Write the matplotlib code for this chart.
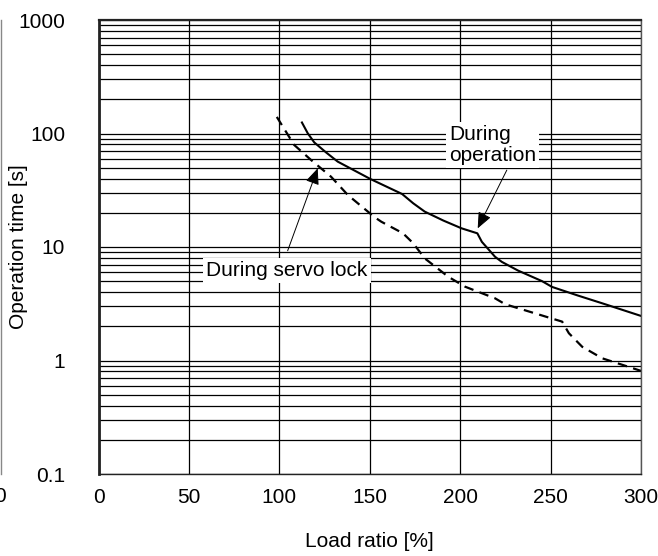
import numpy as np
import matplotlib
matplotlib.use("Agg")
import matplotlib.pyplot as plt
from matplotlib.lines import Line2D

# Load ratio [%] vs operation time [s]
op_x = [112.5, 115.7, 119.3, 125.8, 132.3, 150.4, 167.9, 174.0, 180.4,
        190.7, 200.8, 209.5, 212.0, 219.3, 223.0, 232.0, 245.3, 250.8,
        265.0, 278.6, 300.0]
op_y = [125, 100.5, 83.5, 68.2, 56.5, 39.7, 29.3, 24.3, 20.5,
        17.1, 14.6, 13.2, 11.1, 8.2, 7.4, 6.2, 5.0, 4.45,
        3.74, 3.19, 2.47]

lock_x = [98.6, 108.2, 117.5, 128.6, 137.9, 152.7, 156.4, 168.4, 174.0,
          180.4, 193.4, 202.7, 219.3, 224.9, 256.4, 260.1, 267.5, 278.6, 300.0]
lock_y = [140, 79.3, 58.5, 41.6, 28.7, 18.3, 16.7, 13.2, 10.8,
          7.94, 5.47, 4.47, 3.53, 3.13, 2.2, 1.74, 1.32, 1.045, 0.81]

x_ticks = [0, 50, 100, 150, 200, 250, 300]
y_ticks = [0.1, 1, 10, 100, 1000]
y_ticklabels = ["0.1", "1", "10", "100", "1000"]

plt.rcParams["font.family"] = ["Liberation Sans", "DejaVu Sans"]
fs = 15

fig = plt.figure(figsize=(6.58, 5.56), dpi=100)
ax = fig.add_axes([98.5 / 658, 1 - 474 / 556, (641 - 98.5) / 658, (474 - 20) / 556])

ax.set_yscale("log")
ax.set_xlim(0, 300)
ax.set_ylim(0.1, 1000)
ax.set_xticks(x_ticks)
ax.set_xticklabels([str(v) for v in x_ticks], fontsize=fs)
ax.set_yticks(y_ticks)
ax.set_yticklabels(y_ticklabels, fontsize=fs)
ax.yaxis.set_minor_locator(matplotlib.ticker.LogLocator(base=10, subs=np.arange(2, 10)))
ax.yaxis.set_minor_formatter(matplotlib.ticker.NullFormatter())
ax.tick_params(which="both", length=0)
ax.tick_params(axis="x", pad=10)
ax.tick_params(axis="y", pad=24)

ax.grid(True, which="major", color="black", lw=0.9)
ax.grid(True, which="minor", axis="y", color="black", lw=0.9)
ax.set_axisbelow(True)

for s in ax.spines.values():
    s.set_color("#222222")
    s.set_linewidth(1.0)
ax.spines["left"].set_linewidth(2.0)
ax.spines["top"].set_linewidth(1.6)
ax.spines["right"].set_color("#555555")

ax.plot(op_x, op_y, color="black", lw=1.5, solid_joinstyle="round")
ax.plot(lock_x, lock_y, color="black", lw=1.6, linestyle=(0, (4.3, 2.9)))

ax.set_xlabel("Load ratio [%]", fontsize=fs, labelpad=18)
ax.set_ylabel("Operation time [s]", fontsize=fs, va="center")
ax.yaxis.set_label_coords((18 - 98.5) / 542.5, 0.5)

# annotations
arrow = dict(arrowstyle="-|>,head_length=0.7,head_width=0.3", color="black",
             lw=0.7, mutation_scale=14, shrinkA=0, shrinkB=0)
ax.annotate("", xy=(121.2, 49.3), xytext=(104.6, 9.27), arrowprops=arrow)
ax.annotate("", xy=(209.7, 14.6), xytext=(225.8, 47.6), arrowprops=arrow)

box = dict(boxstyle="square,pad=0.15", fc="white", ec="none")
ax.text(104.2, 6.2, "During servo lock", fontsize=fs, ha="center", va="center",
        bbox=box)
ax.text(193.8, 79.3, "During\noperation", fontsize=fs, ha="left", va="center",
        linespacing=1.15, bbox=box)

# remnant of the neighbouring chart at the left edge
fig.add_artist(Line2D([1 / 658, 1 / 658], [1 - 474 / 556, 1 - 20 / 556],
                      color="#888888", lw=1.0))
fig.text(-6 / 658, 1 - 497 / 556, "0", fontsize=fs, ha="left", va="center")

fig.savefig("out.png", dpi=100)
